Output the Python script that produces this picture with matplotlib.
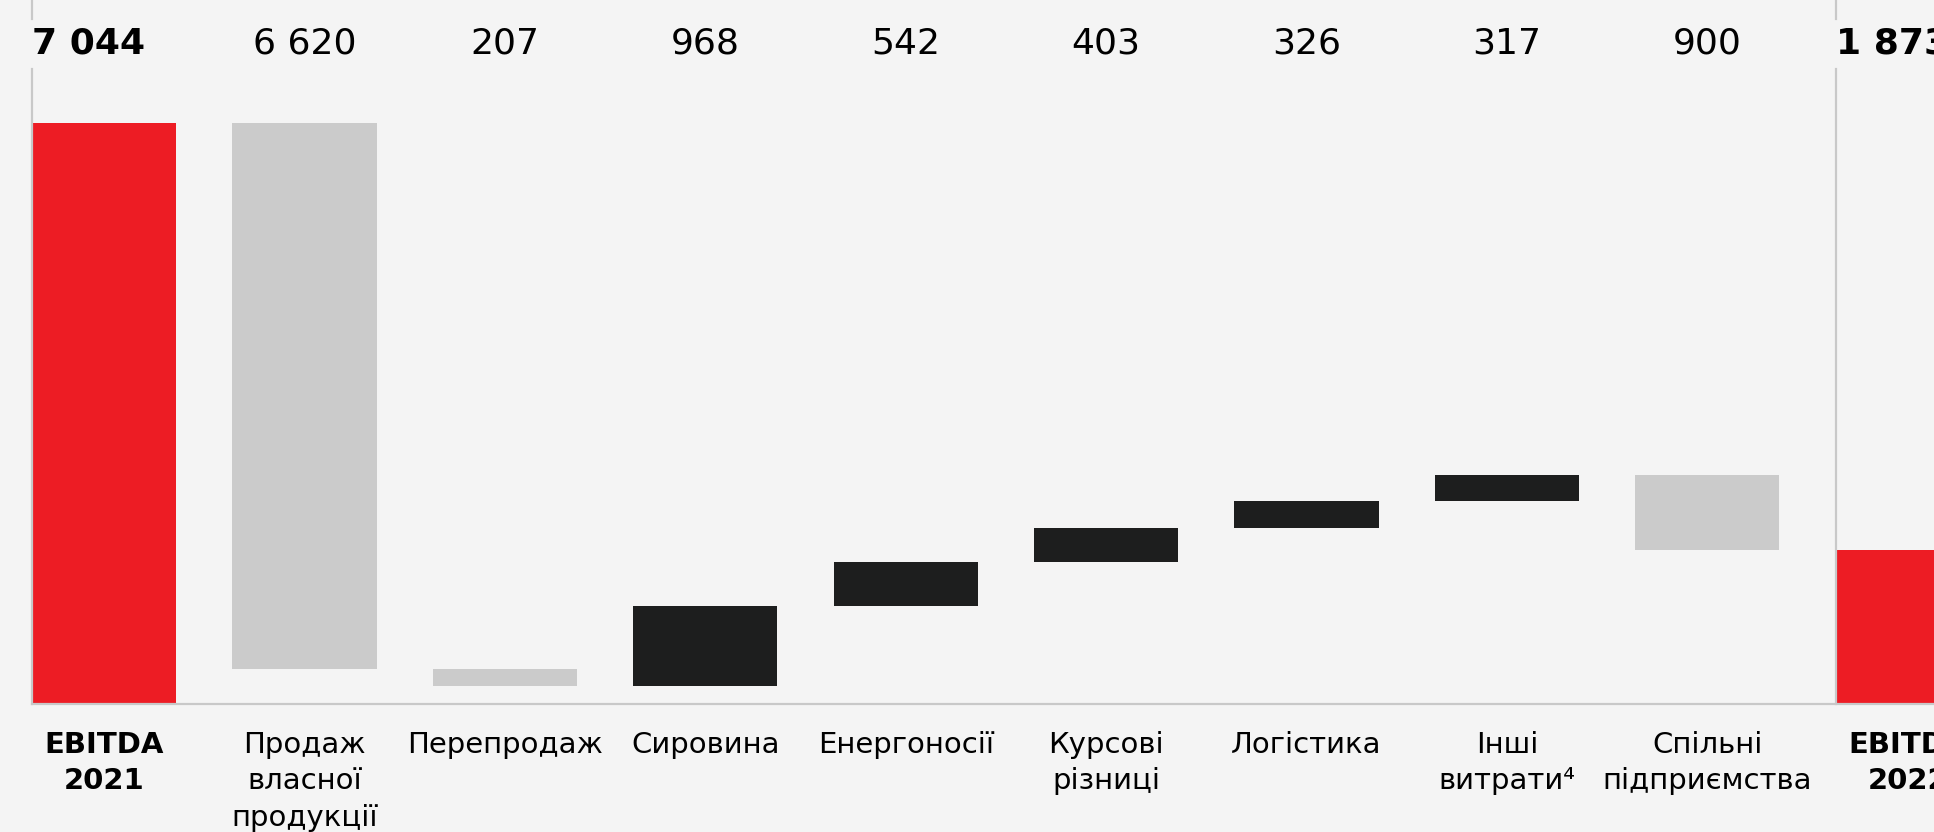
import matplotlib.pyplot as plt
import matplotlib.transforms as mtransforms

# DATOS

categorias = [
    "EBITDA\n2021",
    "Продаж\nвласної\nпродукції",
    "Перепродаж",
    "Сировина",
    "Енергоносії",
    "Курсові\nрізниці",
    "Логістика",
    "Інші\nвитрати⁴",
    "Спільні\nпідприємства",
    "EBITDA\n2022",
]
ebitda_2021 = 7044
ebitda_2022 = 1873
cambios = [-6620, -207, 968, 542, 403, 326, 317, -900]

ROJO = "#ED1C24"
GRIS = "#CBCBCB"
NEGRO = "#1D1E1E"
FONDO = "#F4F4F4"
LINEA = "#C8C8C8"

# CALCULAR BARRAS

bases = [0]
alturas = [ebitda_2021]
colores = [ROJO]
acum = ebitda_2021
for c in cambios:
    nuevo = acum + c
    bases.append(min(acum, nuevo))
    alturas.append(abs(c))
    colores.append(NEGRO if c > 0 else GRIS)
    acum = nuevo
bases.append(0)
alturas.append(ebitda_2022)
colores.append(ROJO)

etiquetas = [ebitda_2021] + [abs(c) for c in cambios] + [ebitda_2022]

# GRÁFICO

W, H = 1934, 832
fig = plt.figure(figsize=(W / 100, H / 100), dpi=100)
fig.patch.set_facecolor(FONDO)

base_px = 704
ax = fig.add_axes([32 / W, (H - base_px) / H, (W - 32) / W, base_px / H])
ax.set_facecolor(FONDO)

x = list(range(len(categorias)))
ancho = 0.72
paso_px = 200.4
ax.bar(x, alturas, bottom=bases, color=colores, width=ancho)

ax.set_xlim(-ancho / 2, -ancho / 2 + (W - 32) / paso_px)
ax.set_ylim(0, base_px * ebitda_2021 / 581)

for s in ax.spines.values():
    s.set_visible(False)
ax.set_xticks([])
ax.set_yticks([])

# línea base
ax.axhline(0, color=LINEA, lw=1.6, clip_on=False)

# líneas verticales en los totales
for i in (0, len(categorias) - 1):
    xl = i - ancho / 2
    ax.plot([xl, xl], [1, (base_px - 19) / base_px], color=LINEA, lw=1.6,
            transform=ax.get_xaxis_transform(), clip_on=False)
    ax.plot([xl, xl], [(base_px - 69) / base_px, 0], color=LINEA, lw=1.6,
            transform=ax.get_xaxis_transform(), clip_on=False)

# Mostrar valores arriba
for i, v in enumerate(etiquetas):
    texto = f"{v:,}".replace(",", " ")
    y_txt = (base_px - 53) / base_px
    if i in (0, len(categorias) - 1):
        ax.text(i - ancho / 2, y_txt, texto, ha="left", va="baseline",
                fontsize=26, fontweight="bold", color="black",
                transform=ax.get_xaxis_transform(), clip_on=False)
    else:
        ax.text(i, y_txt, texto, ha="center", va="baseline",
                fontsize=26, color="black",
                transform=ax.get_xaxis_transform(), clip_on=False)

# etiquetas de categorías
trans = mtransforms.blended_transform_factory(ax.transData, fig.transFigure)
for i, cat in enumerate(categorias):
    negrita = i in (0, len(categorias) - 1)
    fig.text(i, 1 - 731 / H, cat, ha="center", va="top",
             fontsize=21, fontweight="bold" if negrita else "normal",
             linespacing=1.38, color="black", transform=trans)

plt.savefig("out.png", dpi=100, facecolor=FONDO)
plt.close()
